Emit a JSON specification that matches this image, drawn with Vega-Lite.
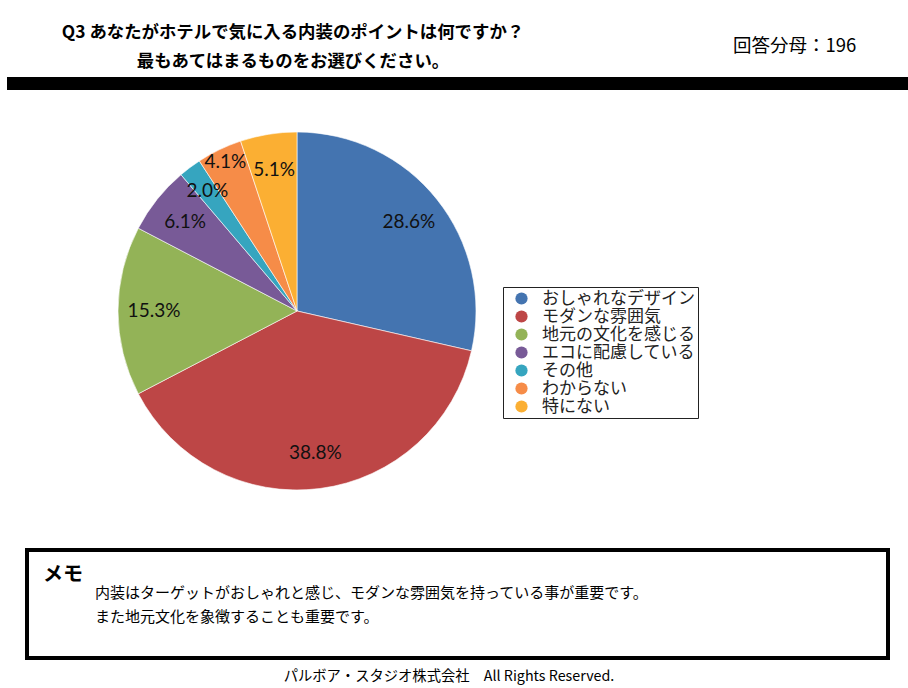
{
  "$schema": "https://vega.github.io/schema/vega-lite/v6.json",
  "width": 908,
  "height": 688,
  "autosize": {"type": "fit", "contains": "padding"},
  "padding": 0,
  "background": "white",
  "config": {"view": {"stroke": null}, "font": "Noto Sans CJK JP"},
  "datasets": {
    "pie": [
      {"item": "おしゃれなデザイン", "count": 56, "pct": "28.6%", "ord": 1},
      {"item": "モダンな雰囲気", "count": 76, "pct": "38.8%", "ord": 2},
      {"item": "地元の文化を感じる", "count": 30, "pct": "15.3%", "ord": 3},
      {"item": "エコに配慮している", "count": 12, "pct": "6.1%", "ord": 4},
      {"item": "その他", "count": 4, "pct": "2.0%", "ord": 5},
      {"item": "わからない", "count": 8, "pct": "4.1%", "ord": 6},
      {"item": "特にない", "count": 10, "pct": "5.1%", "ord": 7}
    ],
    "one": [{"k": 1}]
  },
  "layer": [
    {
      "data": {"name": "one"},
      "mark": {"type": "rect", "color": "black"},
      "encoding": {"x": {"value": 7}, "x2": {"value": 908}, "y": {"value": 77}, "y2": {"value": 90}}
    },
    {
      "data": {"name": "one"},
      "mark": {"type": "rect", "fill": null, "stroke": "black", "strokeWidth": 4},
      "encoding": {"x": {"value": 27}, "x2": {"value": 888}, "y": {"value": 550}, "y2": {"value": 658}}
    },
    {
      "data": {"name": "one"},
      "mark": {"type": "text", "fontSize": 17.4, "fontWeight": "bold", "align": "center", "baseline": "middle", "lineHeight": 29, "text": ["Q3 あなたがホテルで気に入る内装のポイントは何ですか？", "最もあてはまるものをお選びください。"]},
      "encoding": {"x": {"value": 293}, "y": {"value": 33}}
    },
    {
      "data": {"name": "one"},
      "mark": {"type": "text", "fontSize": 18.5, "align": "left", "baseline": "middle", "text": "回答分母：196"},
      "encoding": {"x": {"value": 733}, "y": {"value": 46}}
    },
    {
      "data": {"name": "one"},
      "mark": {"type": "text", "fontSize": 20, "fontWeight": "bold", "align": "left", "baseline": "middle", "text": "メモ"},
      "encoding": {"x": {"value": 43}, "y": {"value": 575}}
    },
    {
      "data": {"name": "one"},
      "mark": {"type": "text", "fontSize": 15, "align": "left", "baseline": "middle", "lineHeight": 24, "text": ["内装はターゲットがおしゃれと感じ、モダンな雰囲気を持っている事が重要です。", "また地元文化を象徴することも重要です。"]},
      "encoding": {"x": {"value": 95}, "y": {"value": 593}}
    },
    {
      "data": {"name": "one"},
      "mark": {"type": "text", "fontSize": 14.3, "align": "center", "baseline": "middle", "text": "パルボア・スタジオ株式会社　All Rights Reserved."},
      "encoding": {"x": {"value": 449}, "y": {"value": 677}}
    },
    {
      "data": {"name": "pie"},
      "mark": {"type": "arc", "outerRadius": 179, "stroke": "white", "strokeWidth": 0.6},
      "encoding": {
        "x": {"value": 297},
        "y": {"value": 311},
        "theta": {"field": "count", "type": "quantitative", "stack": true},
        "order": {"field": "ord", "type": "quantitative", "sort": "ascending"},
        "color": {
          "field": "item",
          "type": "nominal",
          "sort": ["おしゃれなデザイン", "モダンな雰囲気", "地元の文化を感じる", "エコに配慮している", "その他", "わからない", "特にない"],
          "scale": {
            "domain": ["おしゃれなデザイン", "モダンな雰囲気", "地元の文化を感じる", "エコに配慮している", "その他", "わからない", "特にない"],
            "range": ["#4474B0", "#BD4646", "#93B357", "#785A97", "#36A5BF", "#F68C48", "#FBAF33"]
          },
          "legend": {
            "title": null,
            "orient": "none",
            "legendX": 503,
            "legendY": 287,
            "padding": 3,
            "strokeColor": "#222",
            "fillColor": "white",
            "symbolType": "circle",
            "symbolSize": 150,
            "symbolStrokeWidth": 0,
            "labelFontSize": 17,
            "labelFont": "Noto Sans CJK JP",
            "labelColor": "#222",
            "labelOffset": 12,
            "rowPadding": 0,
            "labelLimit": 300,
            "symbolOffset": 7,
            "encode": {"legend": {"update": {"strokeWidth": {"value": 1.5}}}}
          }
        }
      }
    },
    {
      "data": {"name": "pie"},
      "mark": {"type": "text", "radius": 143, "font": "Lato", "fontSize": 19, "color": "#111"},
      "encoding": {
        "x": {"value": 297},
        "y": {"value": 311},
        "theta": {"field": "count", "type": "quantitative", "stack": true},
        "order": {"field": "ord", "type": "quantitative", "sort": "ascending"},
        "text": {"condition": {"test": "datum.item === 'わからない' || datum.item === 'その他'", "value": ""}, "field": "pct"}
      }
    },
    {
      "data": {"name": "pie"},
      "mark": {"type": "text", "radius": 150, "font": "Lato", "fontSize": 19, "color": "#111"},
      "encoding": {
        "x": {"value": 297},
        "y": {"value": 311},
        "theta": {"field": "count", "type": "quantitative", "stack": true},
        "order": {"field": "ord", "type": "quantitative", "sort": "ascending"},
        "text": {"condition": {"test": "datum.item === 'その他'", "field": "pct"}, "value": ""}
      }
    },
    {
      "data": {"name": "pie"},
      "mark": {"type": "text", "radius": 165, "font": "Lato", "fontSize": 19, "color": "#111"},
      "encoding": {
        "x": {"value": 297},
        "y": {"value": 311},
        "theta": {"field": "count", "type": "quantitative", "stack": true},
        "order": {"field": "ord", "type": "quantitative", "sort": "ascending"},
        "text": {"condition": {"test": "datum.item === 'わからない'", "field": "pct"}, "value": ""}
      }
    }
  ]
}
